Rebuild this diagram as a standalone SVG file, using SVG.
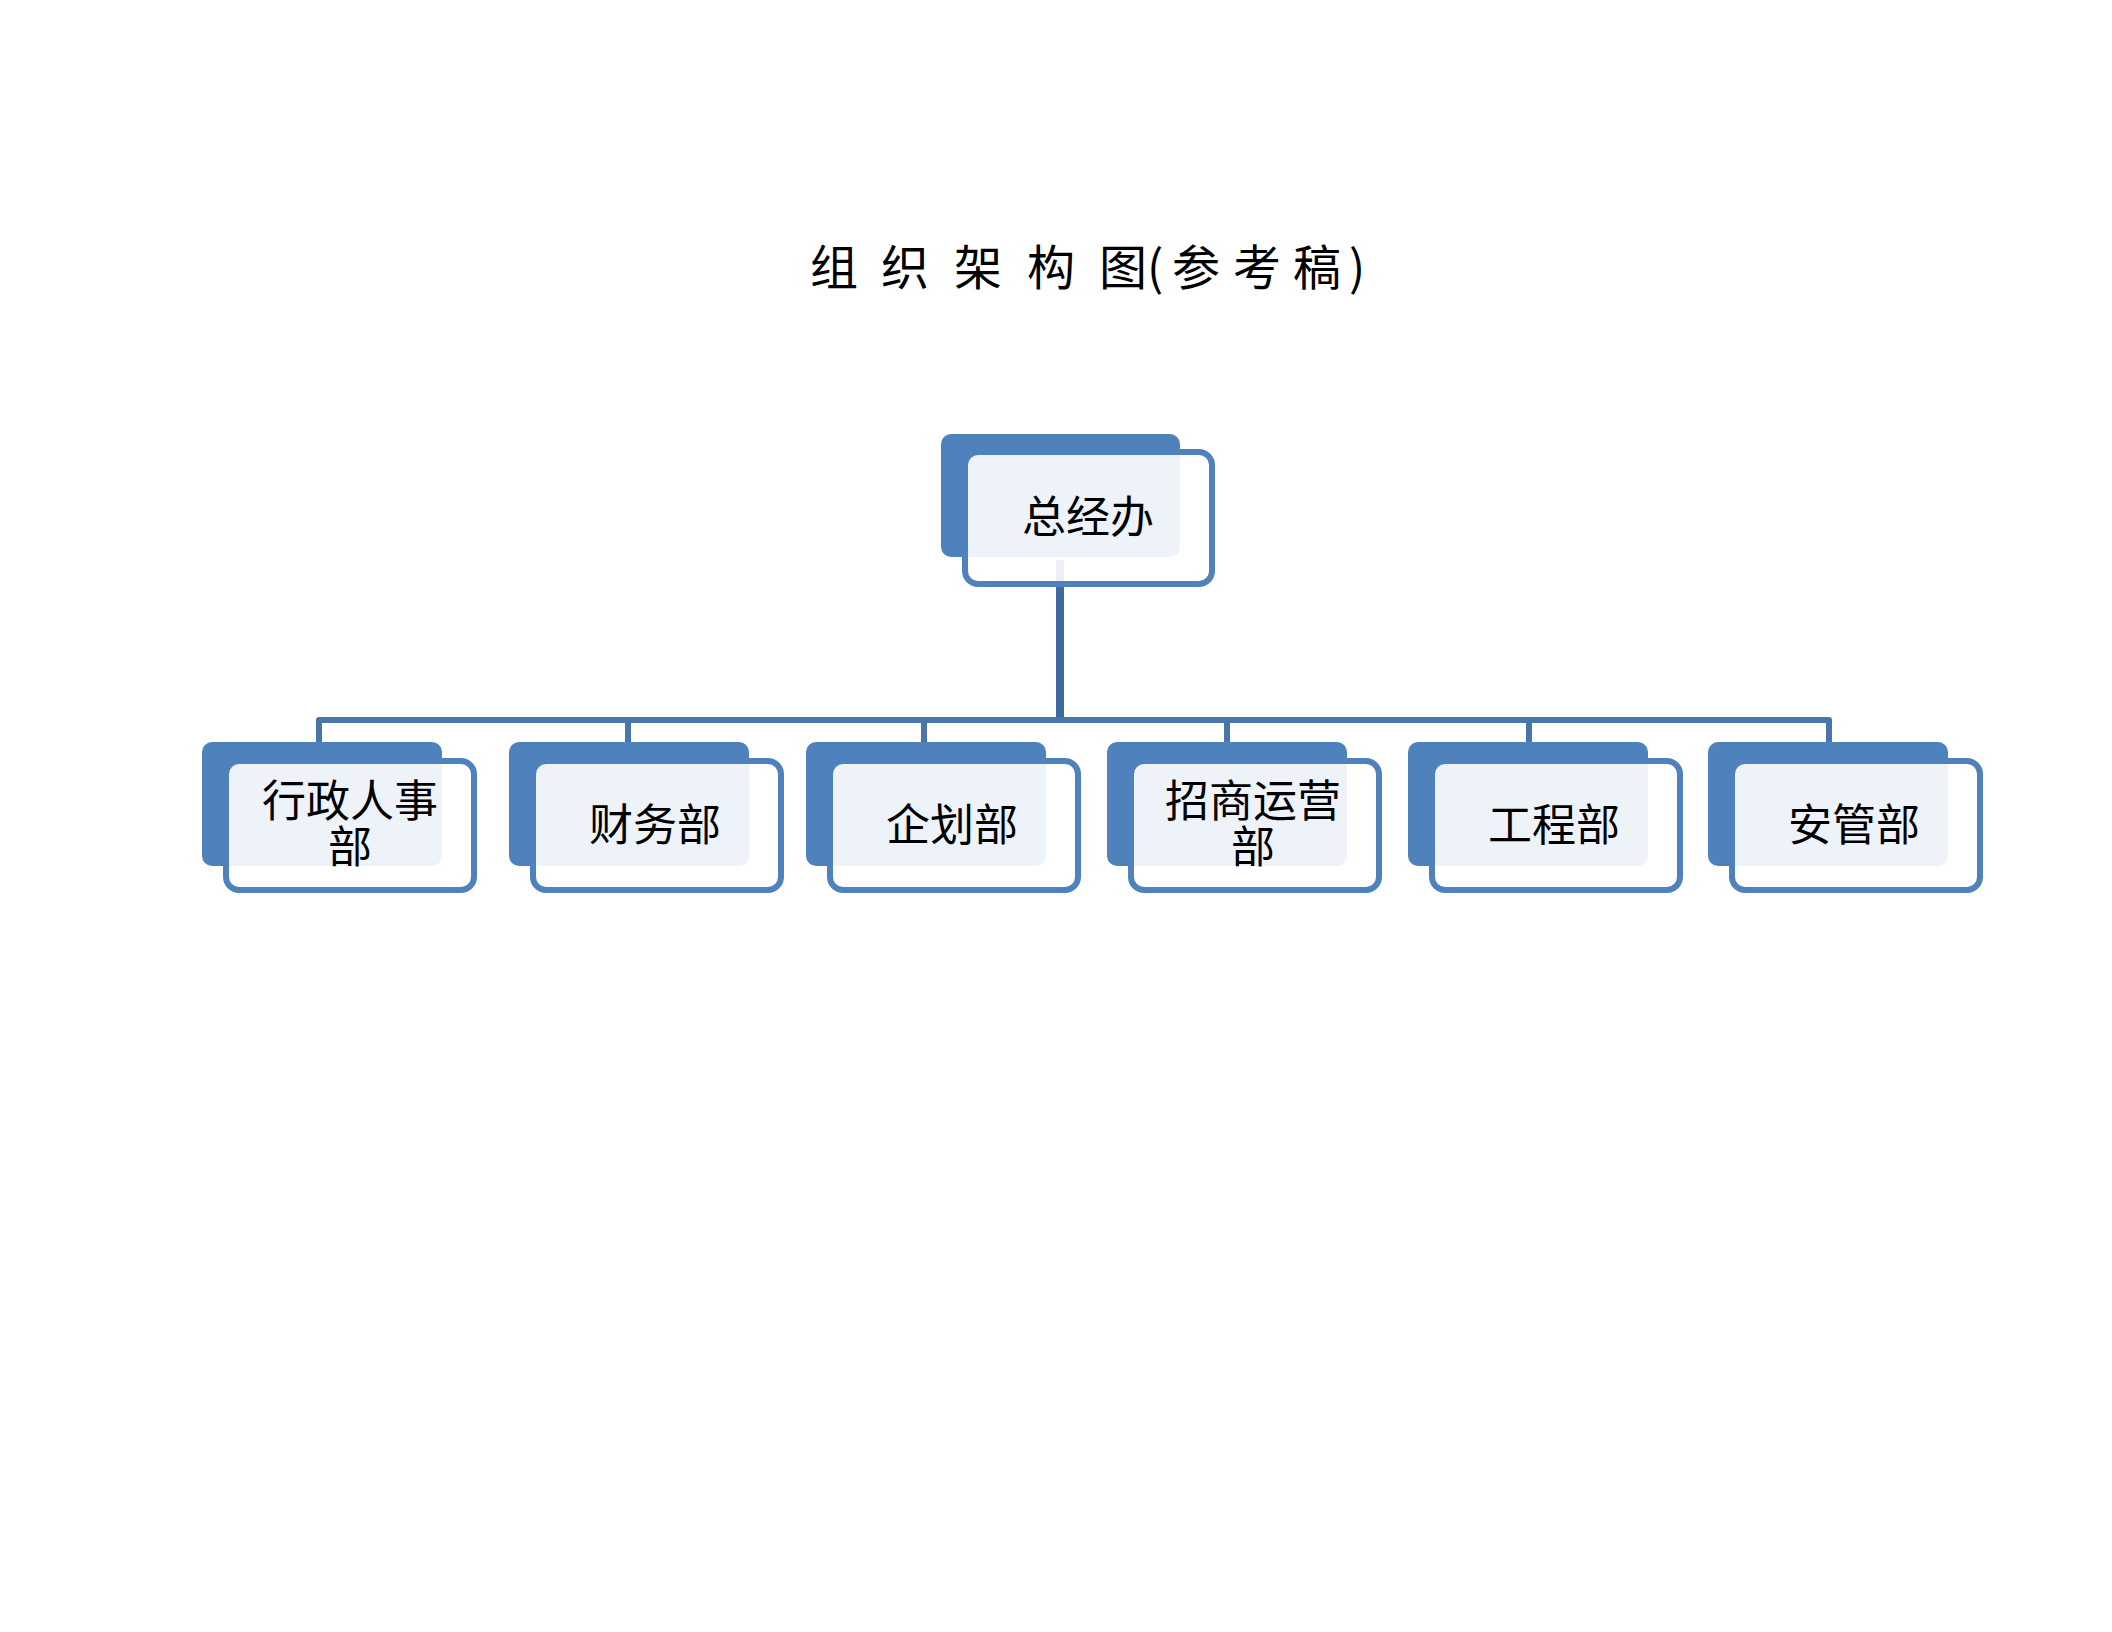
<svg xmlns="http://www.w3.org/2000/svg" width="2112" height="1632" viewBox="0 0 2112 1632">
<style>
.back{fill:#4F81BD;}
.front{fill:#FFFFFF;fill-opacity:0.9;stroke:#4F81BD;stroke-width:6;}
.lbl{font-family:"Noto Sans CJK SC","Noto Sans CJK TC",sans-serif;font-size:44px;fill:#000;text-anchor:middle;}
.title{font-family:"Noto Sans CJK SC","Noto Sans CJK TC",sans-serif;font-size:48px;fill:#000;text-anchor:middle;}
.conn{fill:none;stroke:#4A75AB;stroke-width:6;stroke-linejoin:round;}
</style>
<rect width="2112" height="1632" fill="#FFFFFF"/>
<text class="title" id="title" y="285" x="834 905 978 1051 1123 1155 1196 1257 1317 1357">组织架构图(参考稿)</text>
<g id="connectors">
<line x1="1060" y1="560" x2="1060" y2="718" stroke="#3F6A9F" stroke-width="8"/>
<path class="conn" d="M319,742 V720 H1829 V742"/>
<path class="conn" d="M628,720 V742 M924,720 V742 M1227,720 V742 M1529,720 V742"/>
</g>
<g id="node-top">
<rect class="back" x="941" y="434" width="239" height="123" rx="10"/>
<rect class="front" x="965" y="452" width="247" height="132" rx="13"/>
<text class="lbl" x="1088" y="533">总经办</text>
</g>
<g id="node-1">
<rect class="back" x="202" y="742" width="240" height="124" rx="10"/>
<rect class="front" x="226" y="761" width="248" height="129" rx="13"/>
<text class="lbl"><tspan x="350" y="817">行政人事</tspan><tspan x="350" y="863">部</tspan></text>
</g>
<g id="node-2">
<rect class="back" x="509" y="742" width="240" height="124" rx="10"/>
<rect class="front" x="533" y="761" width="248" height="129" rx="13"/>
<text class="lbl" x="655" y="841">财务部</text>
</g>
<g id="node-3">
<rect class="back" x="806" y="742" width="240" height="124" rx="10"/>
<rect class="front" x="830" y="761" width="248" height="129" rx="13"/>
<text class="lbl" x="952" y="841">企划部</text>
</g>
<g id="node-4">
<rect class="back" x="1107" y="742" width="240" height="124" rx="10"/>
<rect class="front" x="1131" y="761" width="248" height="129" rx="13"/>
<text class="lbl"><tspan x="1253" y="817">招商运营</tspan><tspan x="1253" y="863">部</tspan></text>
</g>
<g id="node-5">
<rect class="back" x="1408" y="742" width="240" height="124" rx="10"/>
<rect class="front" x="1432" y="761" width="248" height="129" rx="13"/>
<text class="lbl" x="1554" y="841">工程部</text>
</g>
<g id="node-6">
<rect class="back" x="1708" y="742" width="240" height="124" rx="10"/>
<rect class="front" x="1732" y="761" width="248" height="129" rx="13"/>
<text class="lbl" x="1854" y="841">安管部</text>
</g>
</svg>
